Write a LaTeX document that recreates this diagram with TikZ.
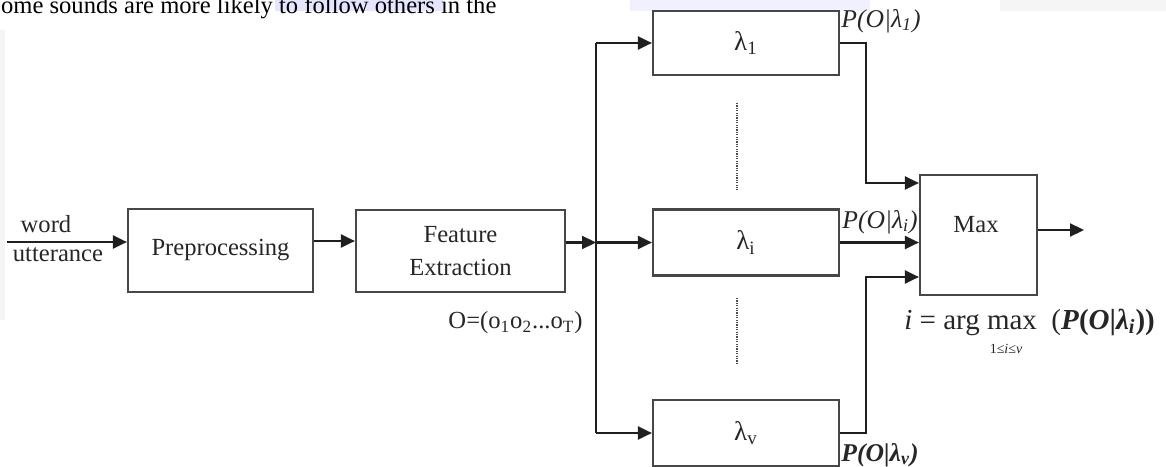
\documentclass[tikz,border=0pt]{standalone}
\usepackage{fontspec}
\setmainfont{Liberation Serif}
\usetikzlibrary{arrows.meta}
\begin{document}
\begin{tikzpicture}[x=0.5pt,y=-0.5pt,
  font=\fontsize{12.3}{15}\selectfont,
  block/.style={draw=black!72, line width=1.1pt, rectangle, inner sep=0pt, text=black!85},
  link/.style={draw=black!88, line width=1.1pt},
  arr/.style={link, -{Triangle[length=7pt,width=6.5pt]}},
  vdots/.style={draw=black!70, line width=0.9pt, dash pattern=on 0.6pt off 0.6pt},
  lbl/.style={inner sep=0pt, text=black!85}]
  \useasboundingbox (0,0) rectangle (1166,466);
  \clip (0,0) rectangle (1166,466);

  % page residue: text line above the figure and faint shading
  \fill[blue!10] (275,0) rectangle (443,11);
  \fill[blue!6] (630,0) rectangle (870,11);
  \fill[black!4] (1000,0) rectangle (1166,11);
  \fill[black!4] (0,30) rectangle (5,320);
  \node[lbl, anchor=base west, text=black] (head) at (-13,13.5)
    {Some sounds are more likely to follow others in the};

  % processing chain
  \node[block, minimum width=92.5pt, minimum height=41.5pt] (pre) at (220.5,250.5) {Preprocessing};
  \node[block, minimum width=104.5pt, minimum height=41pt, align=center,
        font=\fontsize{12.3}{16.5}\selectfont] (feat) at (460.5,251) {Feature\\Extraction};

  % word models
  \node[block, minimum width=93pt, minimum height=32pt, font=\fontsize{13.5}{15}\selectfont] (l1) at (746,43) {λ\textsubscript{1}};
  \node[block, minimum width=93pt, minimum height=33pt, font=\fontsize{13.5}{15}\selectfont] (li) at (746,242.5) {λ\textsubscript{i}};
  \node[block, minimum width=93pt, minimum height=33pt, font=\fontsize{13.5}{15}\selectfont] (lv) at (746,433) {λ\textsubscript{v}};

  % decision block
  \node[block, minimum width=58.5pt, minimum height=60pt] (mx) at (978.5,235) {};
  \node[lbl] (mxtxt) at (976,225) {Max};

  % routing points
  \coordinate (src) at (7,242);
  \coordinate (busmid) at (596,242.5);
  \coordinate (bustop) at (596,43);
  \coordinate (busbot) at (596,433);
  \coordinate (r1) at (866,183);
  \coordinate (r2) at (866,277);
  \coordinate (out) at (1084,230);
  \coordinate (d1) at (737,103);
  \coordinate (d2) at (737,190);
  \coordinate (d3) at (737,298);
  \coordinate (d4) at (737,363);

  % connectors
  \draw[arr] (src) -- (src -| pre.west);
  \draw[arr] (pre.east |- 0,241) -- (feat.west |- 0,241);
  \draw[arr] (feat.east |- busmid) -- (busmid);
  \draw[link] (bustop) -- (busbot);
  \draw[arr] (bustop) -- (l1.west);
  \draw[arr] (busmid) -- (li.west);
  \draw[arr] (busbot) -- (lv.west);
  \draw[arr] (l1.east) -| (r1) -- (r1 -| mx.west);
  \draw[arr] (li.east) -- (li.east -| mx.west);
  \draw[arr] (lv.east) -| (r2) -- (r2 -| mx.west);
  \draw[arr] (mx.east |- out) -- (out);

  % elided models
  \draw[vdots] (d1) -- (d2);
  \draw[vdots] (d3) -- (d4);

  % labels
  \node[lbl] (word) at (46,224) {word};
  \node[lbl] (utt) at (58,255) {utterance};
  \node[lbl, anchor=east] (obs) at (583,323) {O=(o\textsubscript{1}o\textsubscript{2}...o\textsubscript{T})};
  \node[lbl, anchor=west, font=\fontsize{12.8}{15}\selectfont] (p1) at (841,21) {\itshape P(O|λ\textsubscript{1})};
  \node[lbl, anchor=west, font=\fontsize{12.8}{15}\selectfont] (pi) at (842,222) {\itshape P(O|λ\textsubscript{i})};
  \node[lbl, anchor=west, font=\fontsize{12.8}{15}\selectfont] (pv) at (841,455) {\bfseries\itshape P(O|λ\textsubscript{v})};
  \node[lbl, anchor=west, font=\fontsize{14.5}{16}\selectfont] (eq) at (904,322)
    {\textit{i} = arg max\ \ (\textbf{\textit{P}(\textit{O}|\textit{λ}\textsubscript{\textit{i}}))}};
  \node[lbl, font=\fontsize{7}{8}\selectfont] (eqsub) at (1006,349) {1≤\textit{i}≤\textit{v}};
\end{tikzpicture}
\end{document}
